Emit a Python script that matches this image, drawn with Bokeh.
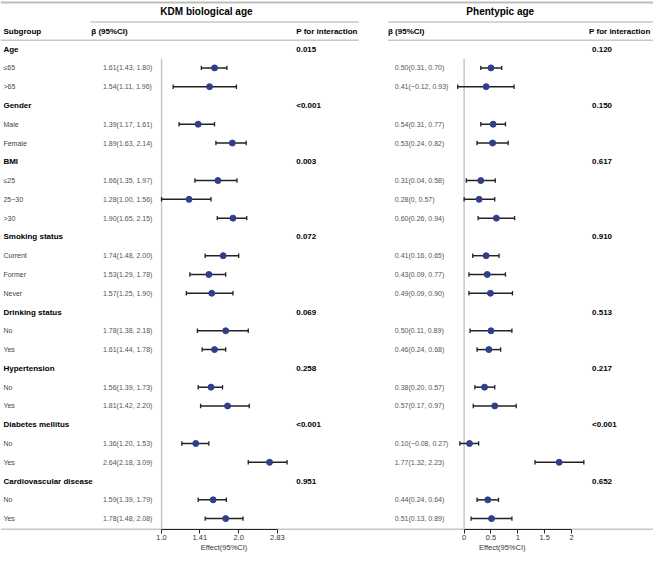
from bokeh.plotting import figure
from bokeh.models import (Range1d, LogScale, LinearScale, LogAxis, LinearAxis,
                          FixedTicker, CustomJSTickFormatter, ColumnDataSource)
from bokeh.embed import file_html
from bokeh.resources import INLINE
from bokeh.core.properties import value

# ---------------- data ----------------
categories = ["Age", "Gender", "BMI", "Smoking status", "Drinking status",
              "Hypertension", "Diabetes mellitus", "Cardiovascular disease"]
levels = [["≤65", ">65"], ["Male", "Female"], ["≤25", "25−30", ">30"],
          ["Current", "Former", "Never"], ["No", "Yes"], ["No", "Yes"],
          ["No", "Yes"], ["No", "Yes"]]

kdm_est = [1.61, 1.54, 1.39, 1.89, 1.66, 1.28, 1.90, 1.74, 1.53, 1.57,
           1.78, 1.61, 1.56, 1.81, 1.36, 2.64, 1.59, 1.78]
kdm_lo = [1.43, 1.11, 1.17, 1.63, 1.35, 1.00, 1.65, 1.48, 1.29, 1.25,
          1.38, 1.44, 1.39, 1.42, 1.20, 2.18, 1.39, 1.48]
kdm_hi = [1.80, 1.96, 1.61, 2.14, 1.97, 1.56, 2.15, 2.00, 1.78, 1.90,
          2.18, 1.78, 1.73, 2.20, 1.53, 3.09, 1.79, 2.08]
kdm_p = ["0.015", "<0.001", "0.003", "0.072", "0.069", "0.258", "<0.001", "0.951"]

ph_est = [0.50, 0.41, 0.54, 0.53, 0.31, 0.28, 0.60, 0.41, 0.43, 0.49,
          0.50, 0.46, 0.38, 0.57, 0.10, 1.77, 0.44, 0.51]
ph_lo = [0.31, -0.12, 0.31, 0.24, 0.04, 0.0, 0.26, 0.16, 0.09, 0.09,
         0.11, 0.24, 0.20, 0.17, -0.08, 1.32, 0.24, 0.13]
ph_hi = [0.70, 0.93, 0.77, 0.82, 0.58, 0.57, 0.94, 0.65, 0.77, 0.90,
         0.89, 0.68, 0.57, 0.97, 0.27, 2.23, 0.64, 0.89]
ph_p = ["0.120", "0.150", "0.617", "0.910", "0.513", "0.217", "<0.001", "0.652"]

kdm_ticks = [1.0, 1.41, 2.0, 2.83]
kdm_tick_labels = ["1.0", "1.41", "2.0", "2.83"]
ph_ticks = [0.0, 0.5, 1.0, 1.5, 2.0]
ph_tick_labels = ["0", "0.5", "1", "1.5", "2"]
axis_title = "Effect(95%CI)"

# ---------------- layout constants (reference pixel units) ----------------
FONT = "Liberation Sans"
Y0, DY = 50.0, 19.32
Y_AXIS = 544.0
REF_W, REF_H = 669.0, 573.0
W, H = 653, 557
KDM_X1, KDM_PX = 165.0, 79.0      # x of value 1 and px per log2 unit
PH_X0, PH_PX = 475.0, 55.0        # x of value 0 and px per unit
POINT = "#323E8A"
CI_COL = "#222222"
RULE = "#C8C8C8"


def fmt(v):
    s = "0" if v == 0 else f"{abs(v):.2f}"
    return ("−" if v < 0 else "") + s


# build rows
cat_y, lvl_y, lvl_names = [], [], []
i = 0
for c, lv in zip(categories, levels):
    cat_y.append(Y0 + i * DY)
    i += 1
    for n in lv:
        lvl_y.append(Y0 + i * DY)
        lvl_names.append(n)
        i += 1

kdm_txt = [f"{fmt(e)}({fmt(a)}, {fmt(b)})" for e, a, b in zip(kdm_est, kdm_lo, kdm_hi)]
ph_txt = [f"{fmt(e)}({fmt(a)}, {fmt(b)})" for e, a, b in zip(ph_est, ph_lo, ph_hi)]

kdm_range = Range1d(2 ** ((0 - KDM_X1) / KDM_PX), 2 ** ((REF_W - KDM_X1) / KDM_PX))
ph_range = Range1d((0 - PH_X0) / PH_PX, (REF_W - PH_X0) / PH_PX)

p = figure(frame_width=W, frame_height=H,
           x_range=Range1d(0, REF_W), y_range=Range1d(REF_H, 0),
           output_backend="svg", toolbar_location=None,
           x_axis_location=None, y_axis_location=None,
           min_border=0,
           background_fill_color="white", border_fill_color="white",
           extra_x_ranges={"kdm": kdm_range, "ph": ph_range},
           extra_x_scales={"kdm": LogScale(), "ph": LinearScale()})
p.outline_line_color = None
p.xgrid.visible = False
p.ygrid.visible = False


def txt(xs, ys, texts, size, bold=False, color="#000000", align="left"):
    src = ColumnDataSource(dict(x=xs, y=ys, t=texts))
    p.text(x="x", y="y", text="t", source=src, text_font=value(FONT),
           text_font_size=size, text_font_style="bold" if bold else "normal",
           text_color=color, text_align=align, text_baseline="middle")


def style_axis(ax):
    ax.fixed_location = Y_AXIS
    ax.axis_line_color = CI_COL
    ax.axis_line_width = 1
    ax.major_tick_line_color = CI_COL
    ax.major_tick_out = 4
    ax.major_tick_in = 0
    ax.minor_tick_out = 0
    ax.minor_tick_in = 0
    ax.major_label_text_font = FONT
    ax.major_label_text_font_size = "7.5px"
    ax.major_label_text_color = "#333333"
    ax.major_label_standoff = 2


def forest(name, est, lo, hi):
    src = ColumnDataSource(dict(y=lvl_y, e=est, lo=lo, hi=hi,
                                yt=[y - 2.3 for y in lvl_y],
                                yb=[y + 2.3 for y in lvl_y]))
    p.segment(x0="lo", x1="hi", y0="y", y1="y", source=src, x_range_name=name,
              line_color=CI_COL, line_width=1.5)
    p.segment(x0="lo", x1="lo", y0="yt", y1="yb", source=src, x_range_name=name,
              line_color=CI_COL, line_width=1.3)
    p.segment(x0="hi", x1="hi", y0="yt", y1="yb", source=src, x_range_name=name,
              line_color=CI_COL, line_width=1.3)
    p.scatter(x="e", y="y", source=src, x_range_name=name, size=6,
              fill_color=POINT, line_color=POINT)


fmt_code = "const i = t.findIndex(v => Math.abs(v - tick) < 1e-6); return i >= 0 ? l[i] : '';"

# ---------------- table rules ----------------
p.segment(x0=[0], x1=[REF_W], y0=[2], y1=[2], line_color="#BDBDBD", line_width=2)
p.segment(x0=[92, 0, 397, 397, 0], x1=[367, 367, REF_W, REF_W, REF_W],
          y0=[22, 41, 22, 41, Y_AXIS], y1=[22, 41, 22, 41, Y_AXIS],
          line_color=RULE, line_width=1.5)
p.segment(x0=[kdm_ticks[0]], x1=[kdm_ticks[0]], y0=[60], y1=[Y_AXIS], x_range_name="kdm",
          line_color=RULE, line_width=1.5)
p.segment(x0=[ph_ticks[0]], x1=[ph_ticks[0]], y0=[60], y1=[Y_AXIS], x_range_name="ph",
          line_color=RULE, line_width=1.5)

# ---------------- texts ----------------
txt([211, 512], [11, 11], ["KDM biological age", "Phentypic age"], "10px", bold=True, align="center")
txt([3, 93, 303, 397, 603], [32] * 5,
    ["Subgroup", "β (95%CI)", "P for interaction", "β (95%CI)", "P for interaction"], "8px", bold=True)
txt([3] * len(categories), cat_y, categories, "8px", bold=True)
txt([3] * len(lvl_names), lvl_y, lvl_names, "7px", color="#444444")
txt([105] * len(kdm_txt), lvl_y, kdm_txt, "7px", color="#555555")
txt([303] * len(kdm_p), cat_y, kdm_p, "8px", bold=True)
txt([404] * len(ph_txt), lvl_y, ph_txt, "7px", color="#555555")
txt([606] * len(ph_p), cat_y, ph_p, "8px", bold=True)
txt([229, 514], [563, 563], [axis_title, axis_title], "7.5px", color="#333333", align="center")

# ---------------- forests ----------------
forest("kdm", kdm_est, kdm_lo, kdm_hi)
forest("ph", ph_est, ph_lo, ph_hi)

axL = LogAxis(x_range_name="kdm",
              ticker=FixedTicker(ticks=kdm_ticks, minor_ticks=[]),
              formatter=CustomJSTickFormatter(args=dict(t=kdm_ticks, l=kdm_tick_labels), code=fmt_code),
              bounds=(kdm_ticks[0], kdm_ticks[-1]))
style_axis(axL)
p.add_layout(axL, "below")

axR = LinearAxis(x_range_name="ph",
                 ticker=FixedTicker(ticks=ph_ticks, minor_ticks=[]),
                 formatter=CustomJSTickFormatter(args=dict(t=ph_ticks, l=ph_tick_labels), code=fmt_code),
                 bounds=(ph_ticks[0], ph_ticks[-1]))
style_axis(axR)
p.add_layout(axR, "below")

open("out.html", "w").write(file_html(p, INLINE))
